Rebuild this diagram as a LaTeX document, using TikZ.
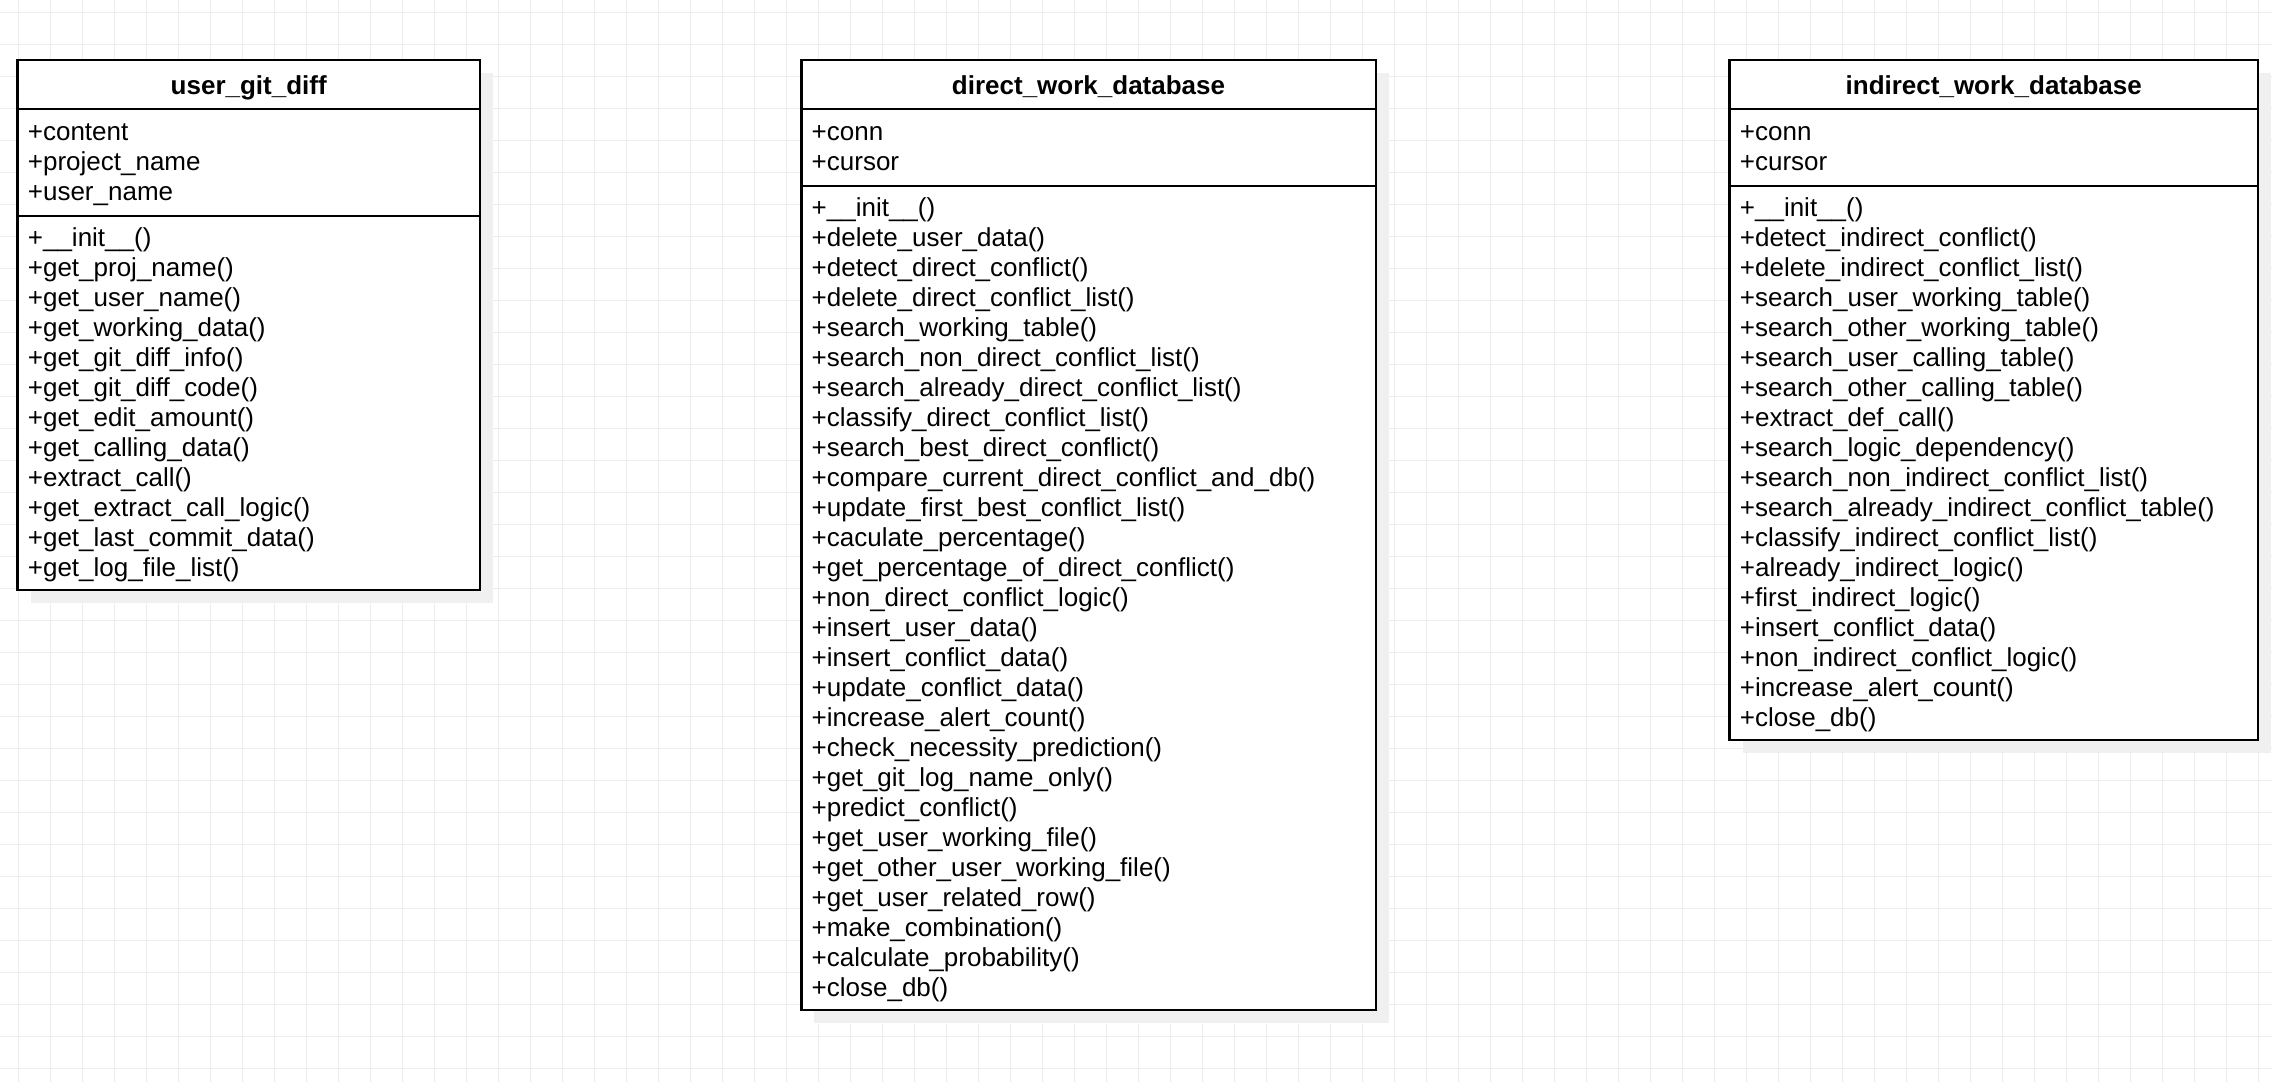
\documentclass[tikz,border=0pt]{standalone}
\usepackage{fontspec}
\setmainfont{Liberation Sans}
\begin{document}
\begin{tikzpicture}[x=0.5pt,y=-0.5pt,
  gridline/.style={black!7,line width=0.5pt},
  shade/.style={fill=black!6},
  umlbox/.style={draw=black,line width=1.25pt,fill=white},
  umlline/.style={black,line width=1.25pt},
  title/.style={anchor=base,inner sep=0pt,font=\fontsize{13}{15}\selectfont\bfseries},
  member/.style={anchor=base west,inner sep=0pt,font=\fontsize{13}{15}\selectfont}]
\fill[white] (0,0) rectangle (2272,1082);
\useasboundingbox (0,0) rectangle (2272,1082);
\begin{scope}[shift={(18.3,12.3)}]
\draw[gridline,step=16pt] (-18.3,-12.3) grid (2253.7,1069.7);
\end{scope}
\begin{scope}[shift={(17.5,60)}]
\fill[shade] (13,13) rectangle (475.5,543);
\draw[umlbox] (0,0) rectangle (462.5,530);
\draw[umlline] (0,49) -- (462.5,49);
\draw[umlline] (0,156) -- (462.5,156);
\node[title] (diffname) at (231.25,34) {user\_git\_diff};
\node[member] (diffa1) at (10,80) {+content};
\node[member] (diffa2) at (10,110) {+project\_name};
\node[member] (diffa3) at (10,140) {+user\_name};
\node[member] (diffm1) at (10,186.7) {+\_\_init\_\_()};
\node[member] (diffm2) at (10,216.7) {+get\_proj\_name()};
\node[member] (diffm3) at (10,246.7) {+get\_user\_name()};
\node[member] (diffm4) at (10,276.7) {+get\_working\_data()};
\node[member] (diffm5) at (10,306.7) {+get\_git\_diff\_info()};
\node[member] (diffm6) at (10,336.7) {+get\_git\_diff\_code()};
\node[member] (diffm7) at (10,366.7) {+get\_edit\_amount()};
\node[member] (diffm8) at (10,396.7) {+get\_calling\_data()};
\node[member] (diffm9) at (10,426.7) {+extract\_call()};
\node[member] (diffm10) at (10,456.7) {+get\_extract\_call\_logic()};
\node[member] (diffm11) at (10,486.7) {+get\_last\_commit\_data()};
\node[member] (diffm12) at (10,516.7) {+get\_log\_file\_list()};
\end{scope}
\begin{scope}[shift={(801.3,60)}]
\fill[shade] (13,13) rectangle (587.5,963);
\draw[umlbox] (0,0) rectangle (574.5,950);
\draw[umlline] (0,49) -- (574.5,49);
\draw[umlline] (0,126) -- (574.5,126);
\node[title] (dirname) at (287.25,34) {direct\_work\_database};
\node[member] (dira1) at (10,80) {+conn};
\node[member] (dira2) at (10,110) {+cursor};
\node[member] (dirm1) at (10,156.7) {+\_\_init\_\_()};
\node[member] (dirm2) at (10,186.7) {+delete\_user\_data()};
\node[member] (dirm3) at (10,216.7) {+detect\_direct\_conflict()};
\node[member] (dirm4) at (10,246.7) {+delete\_direct\_conflict\_list()};
\node[member] (dirm5) at (10,276.7) {+search\_working\_table()};
\node[member] (dirm6) at (10,306.7) {+search\_non\_direct\_conflict\_list()};
\node[member] (dirm7) at (10,336.7) {+search\_already\_direct\_conflict\_list()};
\node[member] (dirm8) at (10,366.7) {+classify\_direct\_conflict\_list()};
\node[member] (dirm9) at (10,396.7) {+search\_best\_direct\_conflict()};
\node[member] (dirm10) at (10,426.7) {+compare\_current\_direct\_conflict\_and\_db()};
\node[member] (dirm11) at (10,456.7) {+update\_first\_best\_conflict\_list()};
\node[member] (dirm12) at (10,486.7) {+caculate\_percentage()};
\node[member] (dirm13) at (10,516.7) {+get\_percentage\_of\_direct\_conflict()};
\node[member] (dirm14) at (10,546.7) {+non\_direct\_conflict\_logic()};
\node[member] (dirm15) at (10,576.7) {+insert\_user\_data()};
\node[member] (dirm16) at (10,606.7) {+insert\_conflict\_data()};
\node[member] (dirm17) at (10,636.7) {+update\_conflict\_data()};
\node[member] (dirm18) at (10,666.7) {+increase\_alert\_count()};
\node[member] (dirm19) at (10,696.7) {+check\_necessity\_prediction()};
\node[member] (dirm20) at (10,726.7) {+get\_git\_log\_name\_only()};
\node[member] (dirm21) at (10,756.7) {+predict\_conflict()};
\node[member] (dirm22) at (10,786.7) {+get\_user\_working\_file()};
\node[member] (dirm23) at (10,816.7) {+get\_other\_user\_working\_file()};
\node[member] (dirm24) at (10,846.7) {+get\_user\_related\_row()};
\node[member] (dirm25) at (10,876.7) {+make\_combination()};
\node[member] (dirm26) at (10,906.7) {+calculate\_probability()};
\node[member] (dirm27) at (10,936.7) {+close\_db()};
\end{scope}
\begin{scope}[shift={(1729.5,60)}]
\fill[shade] (13,13) rectangle (541.5,693);
\draw[umlbox] (0,0) rectangle (528.5,680);
\draw[umlline] (0,49) -- (528.5,49);
\draw[umlline] (0,126) -- (528.5,126);
\node[title] (indname) at (264.25,34) {indirect\_work\_database};
\node[member] (inda1) at (10,80) {+conn};
\node[member] (inda2) at (10,110) {+cursor};
\node[member] (indm1) at (10,156.7) {+\_\_init\_\_()};
\node[member] (indm2) at (10,186.7) {+detect\_indirect\_conflict()};
\node[member] (indm3) at (10,216.7) {+delete\_indirect\_conflict\_list()};
\node[member] (indm4) at (10,246.7) {+search\_user\_working\_table()};
\node[member] (indm5) at (10,276.7) {+search\_other\_working\_table()};
\node[member] (indm6) at (10,306.7) {+search\_user\_calling\_table()};
\node[member] (indm7) at (10,336.7) {+search\_other\_calling\_table()};
\node[member] (indm8) at (10,366.7) {+extract\_def\_call()};
\node[member] (indm9) at (10,396.7) {+search\_logic\_dependency()};
\node[member] (indm10) at (10,426.7) {+search\_non\_indirect\_conflict\_list()};
\node[member] (indm11) at (10,456.7) {+search\_already\_indirect\_conflict\_table()};
\node[member] (indm12) at (10,486.7) {+classify\_indirect\_conflict\_list()};
\node[member] (indm13) at (10,516.7) {+already\_indirect\_logic()};
\node[member] (indm14) at (10,546.7) {+first\_indirect\_logic()};
\node[member] (indm15) at (10,576.7) {+insert\_conflict\_data()};
\node[member] (indm16) at (10,606.7) {+non\_indirect\_conflict\_logic()};
\node[member] (indm17) at (10,636.7) {+increase\_alert\_count()};
\node[member] (indm18) at (10,666.7) {+close\_db()};
\end{scope}
\end{tikzpicture}
\end{document}
